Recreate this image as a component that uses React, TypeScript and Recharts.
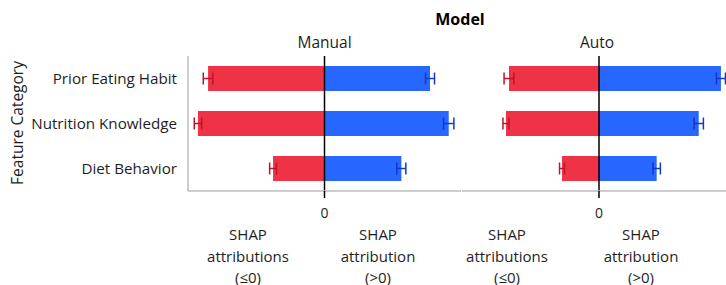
import { BarChart, Bar, XAxis, YAxis, ErrorBar, ReferenceLine } from "recharts";

const categories = ["Prior Eating Habit", "Nutrition Knowledge", "Diet Behavior"];

const manualNeg = [-0.853, -0.927, -0.377];
const manualNegErr = [0.035, 0.027, 0.025];
const manualPos = [0.773, 0.91, 0.563];
const manualPosErr = [0.033, 0.038, 0.033];

const autoNeg = [-0.657, -0.679, -0.27];
const autoNegErr = [0.036, 0.022, 0.018];
const autoPos = [0.89, 0.728, 0.421];
const autoPosErr = [0.033, 0.034, 0.027];

const xTicks = [0];

const FONT = "'Open Sans', 'Noto Sans', sans-serif";
const RED = "#ee3347";
const RED_ERR = "#c3102f";
const BLUE = "#2767ff";
const BLUE_ERR = "#1238c4";
const AXIS = "#bdbdbd";
const TEXT = "#1e1e1e";

const makeRows = (neg: number[], negErr: number[], pos: number[], posErr: number[]) =>
  categories.map((name, i) => ({
    name,
    neg: neg[i],
    negErr: negErr[i],
    pos: pos[i],
    posErr: posErr[i],
  }));

const manualData = makeRows(manualNeg, manualNegErr, manualPos, manualPosErr);
const autoData = makeRows(autoNeg, autoNegErr, autoPos, autoPosErr);

const margin = { top: 56, right: 0, bottom: 64, left: 0 };

interface FacetProps {
  data: ReturnType<typeof makeRows>;
  width: number;
  showY: boolean;
}

const Facet: React.FC<FacetProps> = ({ data, width, showY }) => (
  <BarChart
    width={width}
    height={285}
    data={data}
    layout="vertical"
    margin={margin}
    barSize={25}
    barGap={-25}
    style={{ fontFamily: FONT }}
  >
    <XAxis
      type="number"
      domain={[-1, 1]}
      ticks={xTicks}
      height={30}
      axisLine={{ stroke: AXIS, strokeWidth: 1.5 }}
      tickLine={{ stroke: "#000", strokeWidth: 1.5 }}
      tickSize={7}
      tickMargin={10}
      tick={{ fill: TEXT, fontSize: 14 }}
    />
    <YAxis
      type="category"
      dataKey="name"
      hide={!showY}
      width={188}
      axisLine={{ stroke: AXIS, strokeWidth: 1.5 }}
      tickLine={false}
      tickSize={0}
      tickMargin={11}
      tick={{ fill: TEXT, fontSize: 15.2 }}
    />
    <Bar dataKey="neg" fill={RED} isAnimationActive={false}>
      <ErrorBar dataKey="negErr" direction="x" width={6} stroke={RED_ERR} strokeWidth={1.5} />
    </Bar>
    <Bar dataKey="pos" fill={BLUE} isAnimationActive={false}>
      <ErrorBar dataKey="posErr" direction="x" width={6} stroke={BLUE_ERR} strokeWidth={1.5} />
    </Bar>
    <ReferenceLine x={0} stroke="#000" strokeWidth={1.5} />
  </BarChart>
);

const bottomLabels = [
  { x: 248, lines: ["SHAP", "attributions", "(\u22640)"] },
  { x: 378, lines: ["SHAP", "attribution", "(>0)"] },
  { x: 507, lines: ["SHAP", "attributions", "(\u22640)"] },
  { x: 641, lines: ["SHAP", "attribution", "(>0)"] },
];

export default function App() {
  return (
    <div
      style={{
        position: "absolute",
        left: 0,
        top: 0,
        width: 726,
        height: 285,
        overflow: "hidden",
        background: "#fff",
        fontFamily: FONT,
      }}
    >
      <div style={{ position: "absolute", left: 0, top: 0 }}>
        <Facet data={manualData} width={461} showY={true} />
      </div>
      <div style={{ position: "absolute", left: 462, top: 0 }}>
        <Facet data={autoData} width={274} showY={false} />
      </div>
      <svg
        width={726}
        height={285}
        style={{ position: "absolute", left: 0, top: 0, pointerEvents: "none" }}
        fontFamily={FONT}
      >
        <text x={460} y={25} textAnchor="middle" fontSize={16} fontWeight="bold" fill="#000">
          Model
        </text>
        <text x={324.5} y={48} textAnchor="middle" fontSize={15.5} fill={TEXT}>
          Manual
        </text>
        <text x={597} y={48} textAnchor="middle" fontSize={15.5} fill={TEXT}>
          Auto
        </text>
        <text
          x={0}
          y={0}
          transform="translate(23,123) rotate(-90)"
          textAnchor="middle"
          fontSize={15.5}
          fill={TEXT}
        >
          Feature Category
        </text>
        {bottomLabels.map((lab) =>
          lab.lines.map((line, i) => (
            <text
              key={`${lab.x}-${i}`}
              x={lab.x}
              y={240 + i * 21.5}
              textAnchor="middle"
              fontSize={15}
              fill={TEXT}
            >
              {line}
            </text>
          ))
        )}
      </svg>
    </div>
  );
}
